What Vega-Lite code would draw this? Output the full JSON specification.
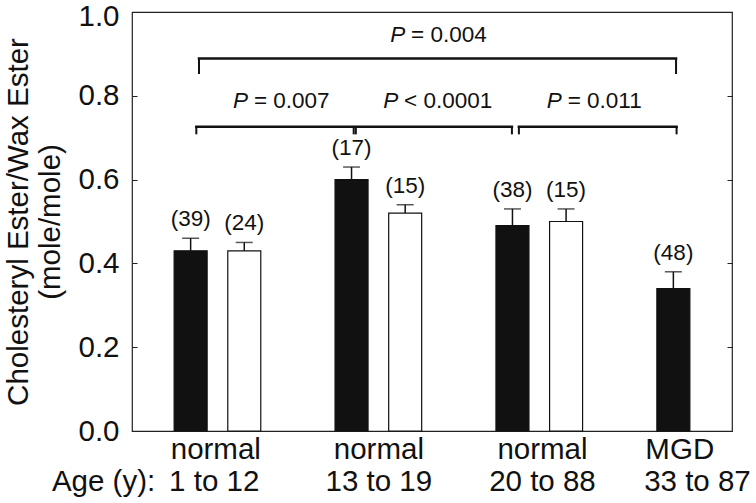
{
  "$schema": "https://vega.github.io/schema/vega-lite/v6.json",
  "width": 600,
  "height": 419,
  "autosize": {"type": "none"},
  "padding": {"left": 132, "top": 12, "right": 24, "bottom": 72},
  "background": "white",
  "config": {
    "font": "Liberation Sans",
    "view": {"stroke": "#222", "strokeWidth": 1.2},
    "axis": {"labelFont": "Liberation Sans", "titleFont": "Liberation Sans", "labelColor": "#111", "titleColor": "#111", "grid": false, "domain": false, "tickColor": "#222"},
    "text": {"font": "Liberation Sans", "color": "#111"}
  },
  "datasets": {
    "bars": [
      {"pos": 1, "group": "normal 1 to 12", "series": "S1", "mean": 0.43, "err": 0.46, "n": "(39)"},
      {"pos": 2, "group": "normal 1 to 12", "series": "S2", "mean": 0.43, "err": 0.45, "n": "(24)"},
      {"pos": 4, "group": "normal 13 to 19", "series": "S1", "mean": 0.60, "err": 0.63, "n": "(17)"},
      {"pos": 5, "group": "normal 13 to 19", "series": "S2", "mean": 0.52, "err": 0.54, "n": "(15)"},
      {"pos": 7, "group": "normal 20 to 88", "series": "S1", "mean": 0.49, "err": 0.53, "n": "(38)"},
      {"pos": 8, "group": "normal 20 to 88", "series": "S2", "mean": 0.50, "err": 0.53, "n": "(15)"},
      {"pos": 10, "group": "MGD 33 to 87", "series": "S1", "mean": 0.34, "err": 0.38, "n": "(48)"}
    ],
    "brackets": [
      {"b1": 1.156, "b2": 10.05, "yh": 0.889, "yl": 0.852},
      {"b1": 1.106, "b2": 4.04, "yh": 0.726, "yl": 0.708},
      {"b1": 4.08, "b2": 6.99, "yh": 0.726, "yl": 0.708},
      {"b1": 7.12, "b2": 10.06, "yh": 0.726, "yl": 0.708}
    ],
    "plabels": [
      {"xp": 4.72, "xr": 5.11, "y": 0.928, "p": "P", "rest": "= 0.004"},
      {"xp": 1.79, "xr": 2.18, "y": 0.772, "p": "P", "rest": "= 0.007"},
      {"xp": 4.59, "xr": 4.98, "y": 0.772, "p": "P", "rest": "< 0.0001"},
      {"xp": 7.64, "xr": 8.03, "y": 0.772, "p": "P", "rest": "= 0.011"}
    ]
  },
  "resolve": {"axis": {"x": "independent", "y": "independent"}},
  "layer": [
    {
      "data": {"name": "bars"},
      "mark": {"type": "bar", "orient": "vertical", "size": 33, "stroke": "#111", "strokeWidth": 1.2},
      "encoding": {
        "x": {"field": "pos", "type": "quantitative", "scale": {"domain": [0, 11], "nice": false, "zero": false},
          "axis": {"orient": "bottom", "values": [1.46, 4.5, 7.55, 10.11], "labelExpr": "datum.value < 10 ? 'normal' : 'MGD'", "ticks": false, "labelFontSize": 29.5, "labelPadding": 4, "labelFlush": false, "labelOverlap": false, "labelBound": false, "labelLimit": 0, "title": null}},
        "y": {"field": "mean", "type": "quantitative", "scale": {"domain": [0, 1], "nice": false},
          "axis": {"orient": "left", "values": [0, 0.2, 0.4, 0.6, 0.8, 1.0], "format": ".1f", "tickSize": -5, "labelFontSize": 29.5, "labelPadding": 18, "labelFlush": false, "labelOverlap": false,
            "labelOffset": {"condition": {"test": "datum.value > 0.9", "value": 4}, "value": 0},
            "title": ["Cholesteryl Ester/Wax Ester", "(mole/mole)"], "titleFontSize": 29.5, "titleFontWeight": "normal", "titlePadding": 12, "titleLineHeight": 32}},
        "color": {"field": "series", "type": "nominal", "scale": {"domain": ["S1", "S2"], "range": ["#111111", "#ffffff"]}, "legend": null}
      }
    },
    {
      "data": {"name": "bars"},
      "mark": {"type": "rule", "color": "#111", "strokeWidth": 1.5},
      "encoding": {
        "x": {"field": "pos", "type": "quantitative", "scale": {"domain": [0, 11], "nice": false, "zero": false},
          "axis": {"orient": "bottom", "offset": 32, "values": [0.33, 1.43, 4.5, 7.55, 10.44], "labelExpr": "datum.value < 1 ? 'Age (y):' : datum.value < 2 ? '1 to 12' : datum.value < 5 ? '13 to 19' : datum.value < 9 ? '20 to 88' : '33 to 87'",
            "labelAlign": {"condition": {"test": "datum.value < 1", "value": "right"}, "value": "center"},
            "ticks": false, "labelFontSize": 29.5, "labelPadding": 4, "labelFlush": false, "labelOverlap": false, "labelBound": false, "labelLimit": 0, "title": null}},
        "y": {"field": "mean", "type": "quantitative", "scale": {"domain": [0, 1], "nice": false},
          "axis": {"orient": "right", "values": [0, 0.2, 0.4, 0.6, 0.8, 1.0], "tickSize": -5, "labels": false, "title": null}},
        "y2": {"field": "err"}
      }
    },
    {
      "data": {"name": "bars"},
      "mark": {"type": "tick", "orient": "horizontal", "size": 17, "thickness": 1.5, "color": "#111"},
      "encoding": {
        "x": {"field": "pos", "type": "quantitative", "scale": {"domain": [0, 11], "nice": false, "zero": false}, "axis": null},
        "y": {"field": "err", "type": "quantitative", "scale": {"domain": [0, 1], "nice": false}, "axis": null}
      }
    },
    {
      "data": {"name": "bars"},
      "mark": {"type": "text", "fontSize": 22.5, "baseline": "alphabetic", "align": "center", "dy": -12},
      "encoding": {
        "x": {"field": "pos", "type": "quantitative", "scale": {"domain": [0, 11], "nice": false, "zero": false}, "axis": null},
        "y": {"field": "err", "type": "quantitative", "scale": {"domain": [0, 1], "nice": false}, "axis": null},
        "text": {"field": "n"}
      }
    },
    {
      "data": {"name": "brackets"},
      "mark": {"type": "rule", "color": "#111", "strokeWidth": 2.5, "strokeCap": "square"},
      "encoding": {
        "x": {"field": "b1", "type": "quantitative", "scale": {"domain": [0, 11], "nice": false, "zero": false}, "axis": null},
        "x2": {"field": "b2"},
        "y": {"field": "yh", "type": "quantitative", "scale": {"domain": [0, 1], "nice": false}, "axis": null}
      }
    },
    {
      "data": {"name": "brackets"},
      "mark": {"type": "rule", "color": "#111", "strokeWidth": 2},
      "encoding": {
        "x": {"field": "b1", "type": "quantitative", "scale": {"domain": [0, 11], "nice": false, "zero": false}, "axis": null},
        "y": {"field": "yl", "type": "quantitative", "scale": {"domain": [0, 1], "nice": false}, "axis": null},
        "y2": {"field": "yh"}
      }
    },
    {
      "data": {"name": "brackets"},
      "mark": {"type": "rule", "color": "#111", "strokeWidth": 2},
      "encoding": {
        "x": {"field": "b2", "type": "quantitative", "scale": {"domain": [0, 11], "nice": false, "zero": false}, "axis": null},
        "y": {"field": "yl", "type": "quantitative", "scale": {"domain": [0, 1], "nice": false}, "axis": null},
        "y2": {"field": "yh"}
      }
    },
    {
      "data": {"name": "plabels"},
      "mark": {"type": "text", "fontSize": 22.5, "fontStyle": "italic", "baseline": "alphabetic", "align": "left"},
      "encoding": {
        "x": {"field": "xp", "type": "quantitative", "scale": {"domain": [0, 11], "nice": false, "zero": false}, "axis": null},
        "y": {"field": "y", "type": "quantitative", "scale": {"domain": [0, 1], "nice": false}, "axis": null},
        "text": {"field": "p"}
      }
    },
    {
      "data": {"name": "plabels"},
      "mark": {"type": "text", "fontSize": 22.5, "baseline": "alphabetic", "align": "left"},
      "encoding": {
        "x": {"field": "xr", "type": "quantitative", "scale": {"domain": [0, 11], "nice": false, "zero": false}, "axis": null},
        "y": {"field": "y", "type": "quantitative", "scale": {"domain": [0, 1], "nice": false}, "axis": null},
        "text": {"field": "rest"}
      }
    }
  ]
}
